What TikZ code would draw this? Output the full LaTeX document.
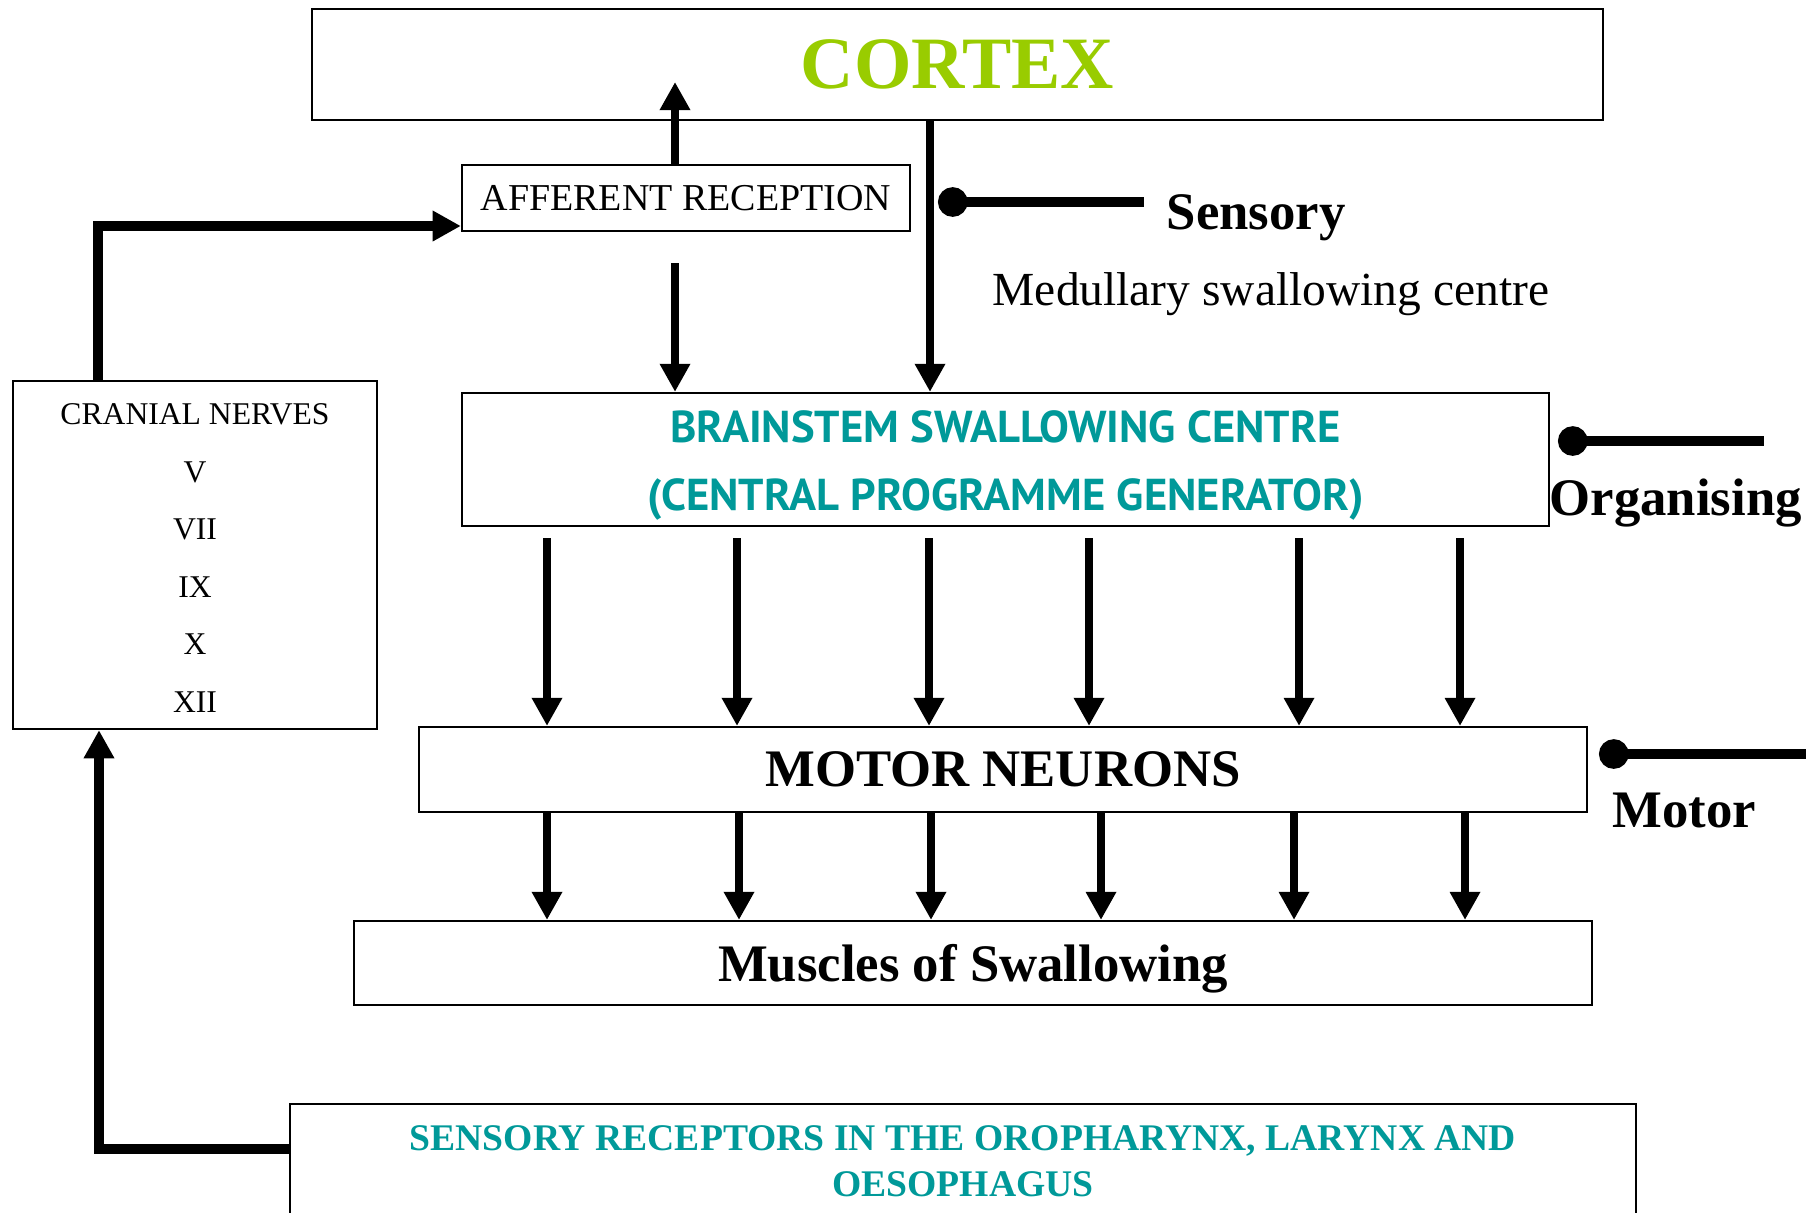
\documentclass[tikz,border=0pt]{standalone}
\usepackage{fontspec}
\setmainfont{Liberation Serif}
\newfontfamily\centrefont{PT Sans}
\usetikzlibrary{arrows.meta,positioning,calc}
\definecolor{cortexgreen}{RGB}{153,204,0}
\definecolor{centreteal}{RGB}{0,153,153}

\begin{document}
\begin{tikzpicture}[x=0.01cm, y=-0.01cm,
	box/.style    = {draw, line width=0.6pt, inner sep=0pt, align=center},
	arr/.style    = {-{Triangle[length=8pt,width=8.2pt]}, line width=2.5pt},
	feedback/.style = {arr, line width=2.8pt},
	level/.style  = {{Circle[length=8.4pt]}-, line width=2.8pt},
	tag/.style    = {anchor=base west, inner sep=0pt, font=\fontsize{15}{18}\selectfont\bfseries}]

	\useasboundingbox (0,0) rectangle (1816,1212);
	\clip (0,0) rectangle (1816,1212);

	% the boxes, top to bottom
	\node[box, minimum width=12.91cm, minimum height=1.11cm] (cortex) at (957.5,64.5)
		{\fontsize{21}{24}\selectfont\bfseries\color{cortexgreen}CORTEX};
	\node[box, minimum width=4.48cm, minimum height=0.66cm] (afferent) at (686,198)
		{\fontsize{10.8}{13}\selectfont AFFERENT RECEPTION};
	\node[box, minimum width=3.64cm, minimum height=3.48cm, font=\fontsize{9}{16.35}\selectfont] (cranial) at (195,555)
		{\rule{0pt}{7.8pt}CRANIAL NERVES\\V\\VII\\IX\\X\\XII};
	\node[box, minimum width=10.87cm, minimum height=1.33cm, font=\centrefont\bfseries\fontsize{12.7}{19.4}\selectfont] (brainstem) at (1005.5,459.5)
		{\rule{0pt}{12.6pt}\color{centreteal}BRAINSTEM SWALLOWING CENTRE\\\color{centreteal}(CENTRAL PROGRAMME GENERATOR)};
	\node[box, minimum width=11.68cm, minimum height=0.85cm] (motor) at (1003,769.5)
		{\fontsize{15}{18}\selectfont\bfseries MOTOR NEURONS};
	\node[box, minimum width=12.38cm, minimum height=0.84cm, text depth=0pt] (muscles) at (973,963)
		{\fontsize{15}{18}\selectfont\bfseries Muscles of Swallowing};
	\node[box, minimum width=13.46cm, minimum height=1.14cm, font=\fontsize{10.7}{13.1}\selectfont\bfseries] (receptors) at (963,1161)
		{\color{centreteal}SENSORY RECEPTORS IN THE OROPHARYNX, LARYNX AND\\\color{centreteal}OESOPHAGUS};

	% level labels on the right
	\node[tag] (sensory) at (1166,229) {Sensory};
	\node[anchor=base west, inner sep=0pt, font=\fontsize{13.5}{16}\selectfont] (medullary) at (992,305) {Medullary swallowing centre};
	\node[tag] (organising) at (1549,515) {Organising};
	\node[tag] (motortag) at (1612,827) {Motor};

	\coordinate (sensory dot) at (938,202);
	\coordinate (sensory end) at (1144,202);
	\coordinate (organising dot) at (1558,441);
	\coordinate (organising end) at (1764,441);
	\coordinate (motor dot) at (1599,754);
	\coordinate (motor end) at (1806,754);
	\draw[level] (sensory dot) -- (sensory end);
	\draw[level] (organising dot) -- (organising end);
	\draw[level] (motor dot) -- (motor end);

	% afferent reception up to the cortex and down to the brainstem
	\coordinate (cortex in) at (675,82);
	\draw[arr] (afferent.north -| cortex in) -- (cortex in);
	\draw[arr] ($(afferent.south -| cortex in)+(0,31)$) -- (brainstem.north -| cortex in);
	\draw[arr] (cortex.south -| 930,0) -- (brainstem.north -| 930,0);

	% brainstem to motor neurons to muscles
	\foreach \x in {547,737,929,1089,1299,1460}
	\draw[arr] ($(brainstem.south -| \x,0)+(0,11)$) -- (motor.north -| \x,0);

	\foreach \x in {547,739,931,1101,1294,1465}
	\draw[arr] (motor.south -| \x,0) -- (muscles.north -| \x,0);

	% feedback loop through the cranial nerves
	\draw[feedback] (receptors.west |- 0,1149) -| (cranial.south -| 99,0);
	\draw[feedback] (cranial.north -| 98,0) |- (afferent.west |- 0,226);

\end{tikzpicture}
\end{document}
